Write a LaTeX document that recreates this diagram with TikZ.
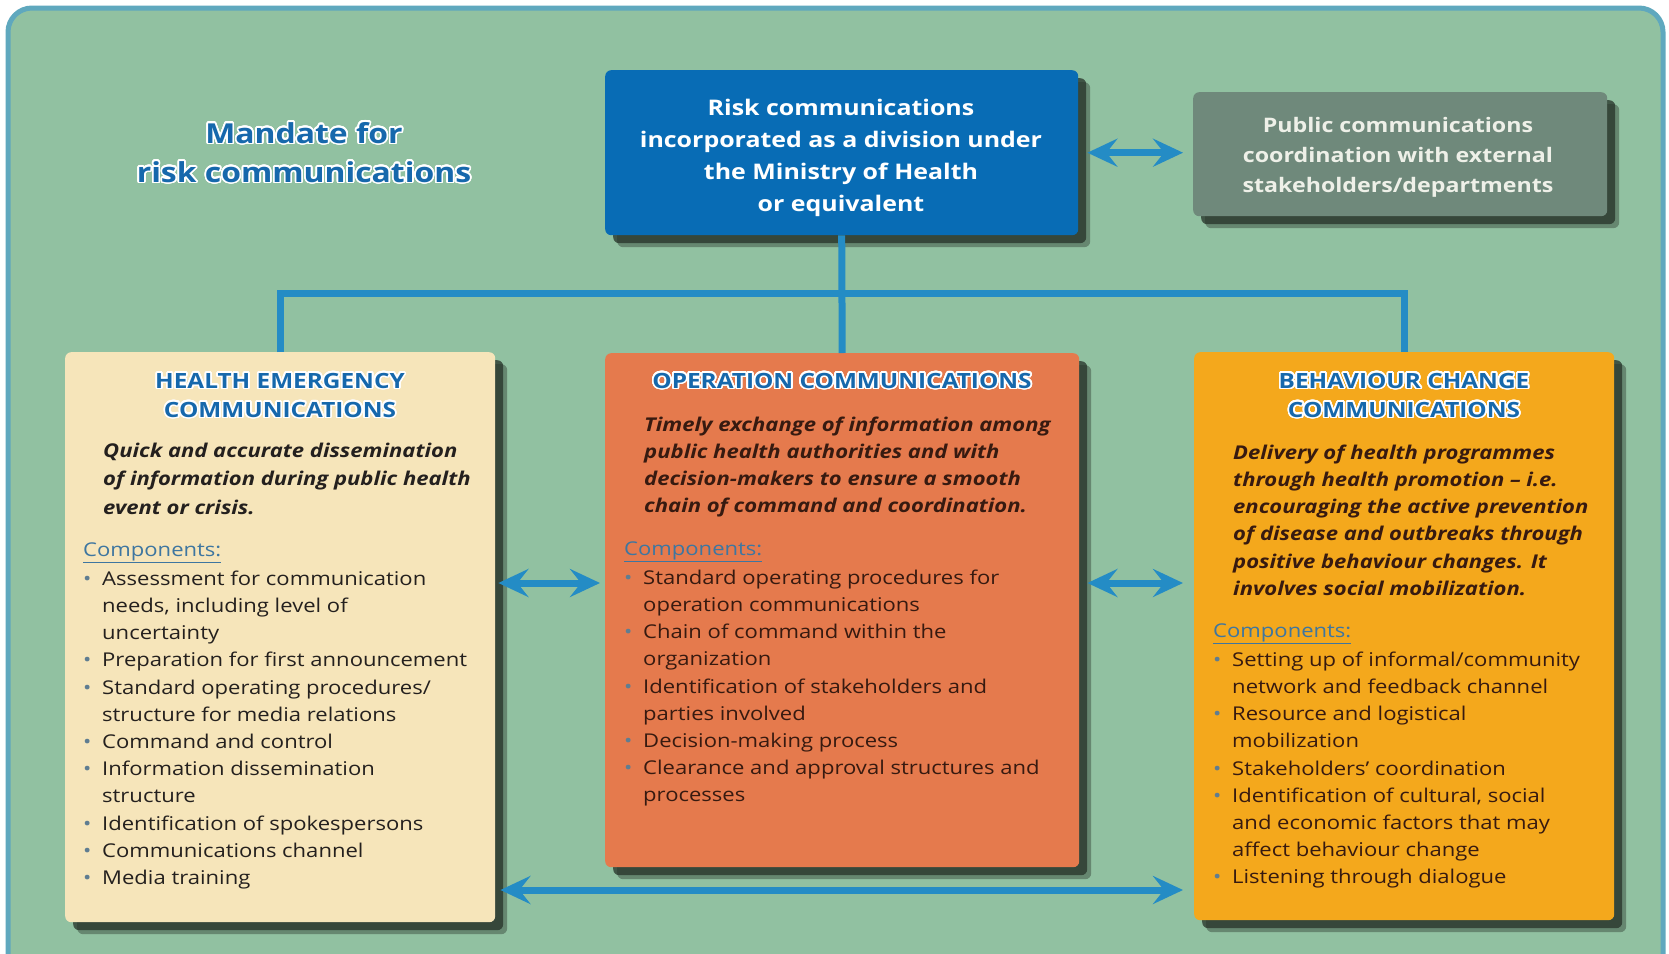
\documentclass[tikz,border=0pt]{standalone}
\usepackage{fontspec}
\setmainfont{Open Sans}[FakeStretch=1.16]
\usepackage[copies]{contour}
\contourlength{1.6pt}
\contournumber{32}
\usetikzlibrary{shadows,arrows.meta}
\definecolor{bg}{RGB}{145,193,161}
\definecolor{framec}{RGB}{95,168,190}
\definecolor{topblue}{RGB}{8,108,181}
\definecolor{grayb}{RGB}{111,137,123}
\definecolor{cream}{RGB}{246,229,186}
\definecolor{orng}{RGB}{229,122,77}
\definecolor{yell}{RGB}{244,168,28}
\definecolor{conn}{RGB}{36,140,197}
\definecolor{headblue}{RGB}{22,104,172}
\definecolor{darktxt}{RGB}{36,32,30}
\definecolor{browntxt}{RGB}{55,26,16}
\definecolor{compc}{RGB}{62,118,160}
\definecolor{bulc}{RGB}{95,125,145}
\definecolor{shad}{RGB}{38,50,40}
\definecolor{pubtxt}{RGB}{238,240,232}
\newcommand\bu[1]{\makebox[19pt][l]{\textcolor{bulc}{\textbullet}}#1}
\newcommand\ct[1]{\hspace*{19pt}#1}
\newcommand\hl[1]{\contour{white}{#1}}
\tikzset{
  boxsh/.style={drop shadow={shadow xshift=12pt,shadow yshift=-12pt,fill=shad,opacity=0.4},
                drop shadow={shadow xshift=8pt,shadow yshift=-8pt,fill=shad,opacity=0.75}},
  panel/.style={boxsh,rounded corners=6pt,inner sep=0pt,anchor=north west,fill=#1},
  connline/.style={draw=conn,line width=7pt},
  dbl/.style={connline,{Stealth[length=30pt,width=28pt,inset=11pt]}-{Stealth[length=30pt,width=28pt,inset=11pt]}},
  head/.style={inner sep=0pt,anchor=north,align=center,text=headblue,font=\bfseries\fontsize{21}{29}\selectfont},
  desc/.style={inner sep=0pt,anchor=north west,align=left,text=#1,font=\bfseries\itshape\fontsize{19}{27.2}\selectfont},
  body/.style={inner sep=0pt,anchor=north west,align=left,text=#1,font=\fontsize{19}{27.2}\selectfont},
}
\begin{document}
\begin{tikzpicture}[x=1pt,y=-1pt]
\useasboundingbox (0,0) rectangle (1669,953);
\fill[white] (0,0) rectangle (1669,953);
\draw[draw=framec,line width=5pt,fill=bg,rounded corners=24pt] (8,8) rectangle (1663,990);

% boxes
\node[panel=topblue,minimum width=473pt,minimum height=165pt] (risk) at (605,70) {};
\node[panel=grayb,minimum width=414pt,minimum height=124pt] (pub) at (1193,92) {};
\node[panel=cream,minimum width=430pt,minimum height=570pt] (hec) at (65,352) {};
\node[panel=orng,minimum width=474pt,minimum height=514pt] (opc) at (605,353) {};
\node[panel=yell,minimum width=420pt,minimum height=568pt] (bcc) at (1194,352) {};

% connectors
\coordinate (bar) at (0,293);
\draw[connline] (risk.south) -- (opc.north);
\draw[connline] (hec.north) -- (hec.north |- bar) -- (bcc.north |- bar) -- (bcc.north);
\draw[dbl,shorten <=9pt,shorten >=10pt] (risk.east) -- (risk.east -| pub.west);
\coordinate (ya) at (0,583);
\coordinate (yb) at (0,890);
\draw[dbl,shorten <=3pt,shorten >=5pt] (hec.east |- ya) -- (opc.west |- ya);
\draw[dbl,shorten <=8pt,shorten >=11pt] (opc.east |- ya) -- (bcc.west |- ya);
\draw[dbl,shorten <=5pt,shorten >=11pt] (hec.east |- yb) -- (bcc.west |- yb);

% title
\node[inner sep=0pt,anchor=north,align=center,text=headblue,font=\bfseries\fontsize{27.5}{39}\selectfont] (mandate) at (304,115.7)
  {\strut\hl{Mandate for}\\\hl{risk communications}};

% top boxes text
\node[inner sep=0pt,anchor=north,align=center,text=white,font=\bfseries\fontsize{21.5}{32}\selectfont] (riskT) at (841,92.6)
  {\strut Risk communications\\incorporated as a division under\\the Ministry of Health\\or equivalent};
\node[inner sep=0pt,anchor=north,align=center,text=pubtxt,font=\bfseries\fontsize{20}{30}\selectfont] (pubT) at (1398,111)
  {\strut Public communications\\coordination with external\\stakeholders/departments};

% left panel
\node[head] (hecT) at (280,367.7) {\strut\hl{HEALTH EMERGENCY}\\\hl{COMMUNICATIONS}};
\node[desc=darktxt,font=\bfseries\itshape\fontsize{19}{28.5}\selectfont] (hecD) at (103,437)
  {\strut Quick and accurate dissemination\\of information during public health\\event or crisis.};
\node[body=darktxt] (hecC) at (83,537)
  {\strut\textcolor{compc}{\underline{Components:}}\\[1.8pt]
   \bu{Assessment for communication}\\\ct{needs, including level of}\\\ct{uncertainty}\\
   \bu{Preparation for first announcement}\\
   \bu{Standard operating procedures/}\\\ct{structure for media relations}\\
   \bu{Command and control}\\
   \bu{Information dissemination}\\\ct{structure}\\
   \bu{Identification of spokespersons}\\
   \bu{Communications channel}\\
   \bu{Media training}};

% middle panel
\node[head] (opcT) at (842,367.7) {\strut\hl{OPERATION COMMUNICATIONS}};
\node[desc=browntxt] (opcD) at (644,412)
  {\strut Timely exchange of information among\\public health authorities and with\\decision-makers to ensure a smooth\\chain of command and coordination.};
\node[body=browntxt] (opcC) at (624,536)
  {\strut\textcolor{compc}{\underline{Components:}}\\[1.8pt]
   \bu{Standard operating procedures for}\\\ct{operation communications}\\
   \bu{Chain of command within the}\\\ct{organization}\\
   \bu{Identification of stakeholders and}\\\ct{parties involved}\\
   \bu{Decision-making process}\\
   \bu{Clearance and approval structures and}\\\ct{processes}};

% right panel
\node[head] (bccT) at (1404,367.7) {\strut\hl{BEHAVIOUR CHANGE}\\\hl{COMMUNICATIONS}};
\node[desc=browntxt] (bccD) at (1233,440)
  {\strut Delivery of health programmes\\through health promotion – i.e.\\encouraging the active prevention\\of disease and outbreaks through\\positive behaviour changes. It\\involves social mobilization.};
\node[body=browntxt] (bccC) at (1213,618)
  {\strut\textcolor{compc}{\underline{Components:}}\\[1.8pt]
   \bu{Setting up of informal/community}\\\ct{network and feedback channel}\\
   \bu{Resource and logistical}\\\ct{mobilization}\\
   \bu{Stakeholders’ coordination}\\
   \bu{Identification of cultural, social}\\\ct{and economic factors that may}\\\ct{affect behaviour change}\\
   \bu{Listening through dialogue}};
\end{tikzpicture}
\end{document}
